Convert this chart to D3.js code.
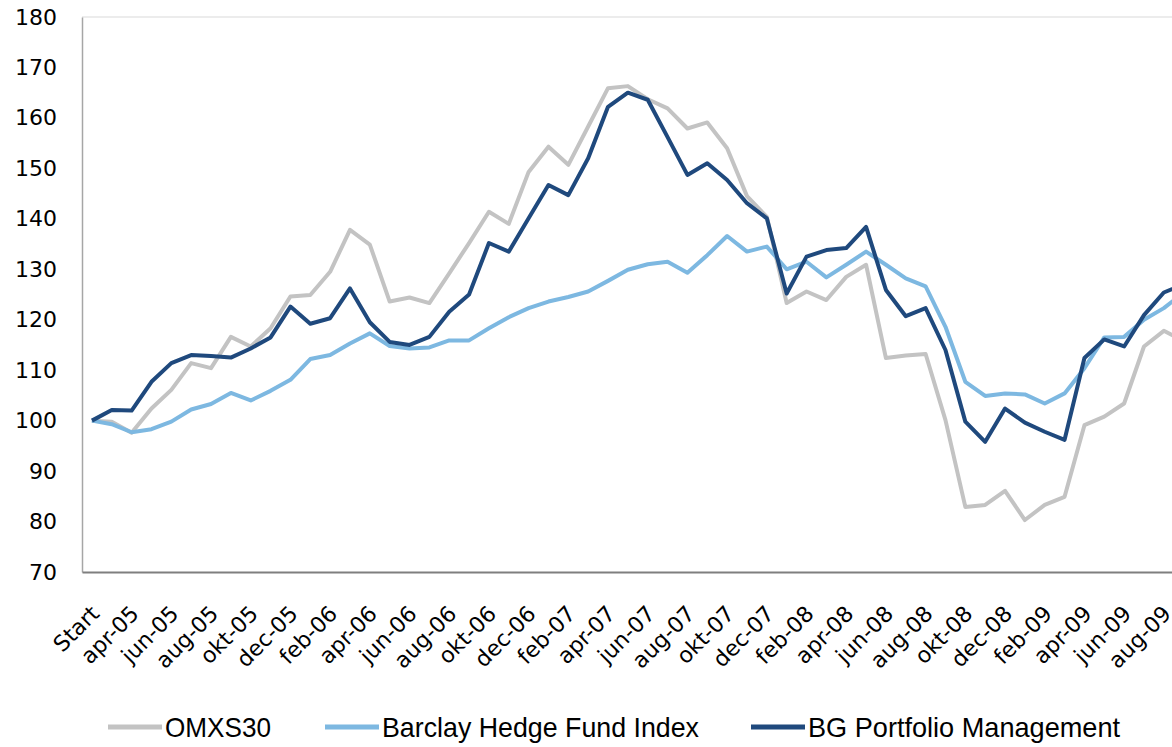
<!DOCTYPE html>
<html>
<head>
<meta charset="utf-8">
<script src="https://cdn.jsdelivr.net/npm/d3@7"></script>
<style>
  body { margin: 0; background: #fff; }
  svg { display: block; }
</style>
</head>
<body>
<script>
const categories = [
  "Start", "mar-05", "apr-05", "maj-05", "jun-05", "jul-05", "aug-05", "sep-05", "okt-05", "nov-05", "dec-05",
  "jan-06", "feb-06", "mar-06", "apr-06", "maj-06", "jun-06", "jul-06", "aug-06", "sep-06", "okt-06", "nov-06", "dec-06",
  "jan-07", "feb-07", "mar-07", "apr-07", "maj-07", "jun-07", "jul-07", "aug-07", "sep-07", "okt-07", "nov-07", "dec-07",
  "jan-08", "feb-08", "mar-08", "apr-08", "maj-08", "jun-08", "jul-08", "aug-08", "sep-08", "okt-08", "nov-08", "dec-08",
  "jan-09", "feb-09", "mar-09", "apr-09", "maj-09", "jun-09", "jul-09", "aug-09", "sep-09"
];

const omxs30 = [
  100, 99.8, 97.6, 102.4, 106.1, 111.4, 110.4, 116.6, 114.7, 118.3, 124.6,
  124.9, 129.5, 137.8, 134.9, 123.6, 124.4, 123.3, 129.2, 135.2, 141.4, 139.0, 149.3,
  154.3, 150.7, 158.3, 165.9, 166.3, 163.7, 161.9, 157.9, 159.1, 154.0, 144.5, 140.4,
  123.3, 125.6, 123.9, 128.5, 130.9, 112.4, 112.9, 113.2, 100.1, 82.9, 83.3, 86.1,
  80.3, 83.3, 84.9, 99.1, 100.8, 103.4, 114.7, 117.8, 115.8
];

const barclay = [
  100, 99.3, 97.7, 98.3, 99.8, 102.2, 103.3, 105.5, 104.0, 105.9, 108.1,
  112.2, 113.0, 115.3, 117.3, 114.8, 114.3, 114.5, 115.9, 115.9, 118.3, 120.5, 122.3,
  123.6, 124.5, 125.6, 127.7, 129.9, 131.0, 131.5, 129.3, 132.8, 136.6, 133.5, 134.5,
  130.0, 131.5, 128.4, 130.9, 133.5, 130.9, 128.2, 126.6, 118.6, 107.7, 104.9, 105.4,
  105.2, 103.4, 105.4, 110.4, 116.5, 116.6, 120.0, 122.3, 125.4
];

const bgPortfolio = [
  100, 102.1, 102.0, 107.7, 111.4, 113.0, 112.8, 112.5, 114.3, 116.5, 122.6,
  119.2, 120.3, 126.2, 119.5, 115.6, 115.0, 116.6, 121.6, 125.0, 135.2, 133.5, 140.1,
  146.7, 144.7, 152.0, 162.2, 165.0, 163.6, 156.2, 148.7, 151.0, 147.7, 143.1, 140.1,
  125.2, 132.5, 133.8, 134.2, 138.4, 125.9, 120.7, 122.3, 114.0, 99.8, 95.8, 102.4,
  99.6, 97.8, 96.2, 112.4, 116.1, 114.7, 120.9, 125.4, 127.0
];

const yTicks = [70, 80, 90, 100, 110, 120, 130, 140, 150, 160, 170, 180];

const series = [
  { name: "OMXS30", values: omxs30, color: "#c3c3c3" },
  { name: "Barclay Hedge Fund Index", values: barclay, color: "#7db8e1" },
  { name: "BG Portfolio Management", values: bgPortfolio, color: "#1f497d" }
];

const width = 1172;
const height = 747;
const left = 82;
const step = 19.85;

const svg = d3.select("body")
  .append("svg")
  .attr("width", width)
  .attr("height", height);

const x = d3.scalePoint()
  .domain(categories)
  .range([left, left + step * categories.length])
  .padding(0.5);

const y = d3.scaleLinear()
  .domain([70, 180])
  .range([572, 17]);

// top frame line
svg.append("line")
  .attr("x1", left).attr("x2", width)
  .attr("y1", y(180)).attr("y2", y(180))
  .attr("stroke", "#d9d9d9")
  .attr("stroke-width", 1);

// y axis
const yAxis = svg.append("g")
  .attr("transform", `translate(${left},0)`)
  .call(d3.axisLeft(y).tickValues(yTicks).tickSize(0).tickPadding(25));
yAxis.select(".domain").attr("stroke", "#a6a6a6").attr("stroke-width", 1.5);
yAxis.selectAll("text")
  .attr("font-family", "'DejaVu Sans', Verdana, sans-serif")
  .attr("font-size", 22)
  .attr("fill", "#000");

// x axis
const xAxis = svg.append("g")
  .attr("transform", `translate(0,${y(70)})`)
  .call(d3.axisBottom(x)
    .tickValues(categories.filter((d, i) => i % 2 === 0))
    .tickSize(0));
xAxis.select(".domain").attr("stroke", "#7f7f7f").attr("stroke-width", 2);
xAxis.selectAll("text")
  .attr("font-family", "'DejaVu Sans', Verdana, sans-serif")
  .attr("font-size", 22)
  .attr("fill", "#000")
  .attr("text-anchor", "end")
  .attr("dy", 0)
  .attr("transform", "translate(6,41) rotate(-45)");

// lines
const line = d3.line()
  .x((d, i) => x(categories[i]))
  .y(d => y(d));

svg.append("g")
  .selectAll("path")
  .data(series)
  .join("path")
  .attr("fill", "none")
  .attr("stroke", d => d.color)
  .attr("stroke-width", 4)
  .attr("stroke-linejoin", "round")
  .attr("d", d => line(d.values));

// legend
const legendX = [108, 325, 751];
const legendTextLen = [106, 317, 312];
const legend = svg.append("g")
  .selectAll("g")
  .data(series)
  .join("g")
  .attr("transform", (d, i) => `translate(${legendX[i]},727)`);

legend.append("line")
  .attr("x1", 0).attr("x2", 54)
  .attr("stroke", d => d.color)
  .attr("stroke-width", 5);

legend.append("text")
  .attr("x", 57)
  .attr("y", 10)
  .attr("font-family", "'Liberation Sans', Arial, sans-serif")
  .attr("font-size", 28)
  .attr("textLength", (d, i) => legendTextLen[i])
  .attr("lengthAdjust", "spacingAndGlyphs")
  .attr("fill", "#000")
  .text(d => d.name);
</script>
</body>
</html>
